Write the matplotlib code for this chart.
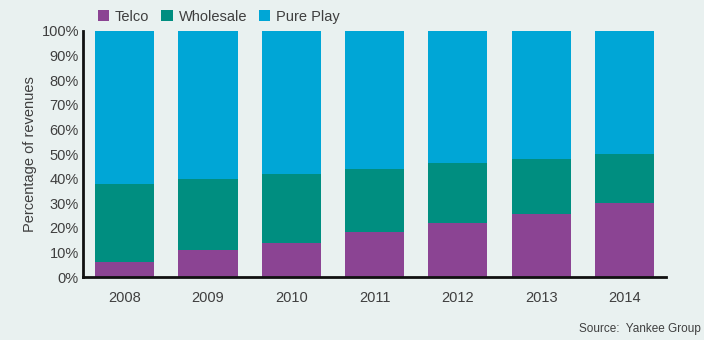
import numpy as np
import matplotlib.pyplot as plt

years = ["2008", "2009", "2010", "2011", "2012", "2013", "2014"]
telco = [6, 11, 14, 18.5, 22, 25.5, 30]
wholesale = [32, 29, 28, 25.5, 24.5, 22.5, 20]
pure_play = [62, 60, 58, 56, 53.5, 52, 50]

BG = "#e9f1f0"
TXT = "#3f3f3f"
colors = {"Telco": "#8b4493", "Wholesale": "#008e80", "Pure Play": "#00a6d6"}

plt.rcParams["font.family"] = ["Liberation Sans", "DejaVu Sans"]

fig = plt.figure(figsize=(7.04, 3.4), dpi=100, facecolor=BG)
ax = fig.add_axes([0.118, 0.185, 0.828, 0.724], facecolor=BG)

x = np.arange(len(years))
w = 0.71
ax.bar(x, telco, w, color=colors["Telco"], label="Telco")
ax.bar(x, wholesale, w, bottom=telco, color=colors["Wholesale"], label="Wholesale")
bottom2 = np.array(telco) + np.array(wholesale)
ax.bar(x, pure_play, w, bottom=bottom2, color=colors["Pure Play"], label="Pure Play")

ax.set_xlim(-0.5, 6.5)
ax.set_ylim(0, 100)
ax.set_xticks(x)
ax.set_xticklabels(years)
ax.set_yticks(range(0, 101, 10))
ax.set_yticklabels([f"{v}%" for v in range(0, 101, 10)])
ax.tick_params(axis="both", length=0, labelsize=10.5, colors=TXT)
ax.tick_params(axis="x", pad=10)
ax.tick_params(axis="y", pad=3)

for s in ["top", "right"]:
    ax.spines[s].set_visible(False)
for s in ["left", "bottom"]:
    ax.spines[s].set_linewidth(2)
    ax.spines[s].set_color("#111111")

ax.set_ylabel("Percentage of revenues", fontsize=10.5, color=TXT, labelpad=3)

fig.legend(loc="upper left", bbox_to_anchor=(0.12, 1.01), ncol=3, frameon=False,
           fontsize=10.5, handlelength=0.8, handleheight=0.8, handletextpad=0.4,
           columnspacing=0.8, labelcolor=TXT)

fig.text(0.995, 0.015, "Source:  Yankee Group", ha="right", va="bottom",
         fontsize=8.5, color=TXT)

fig.savefig("out.png", dpi=100, facecolor=BG)
